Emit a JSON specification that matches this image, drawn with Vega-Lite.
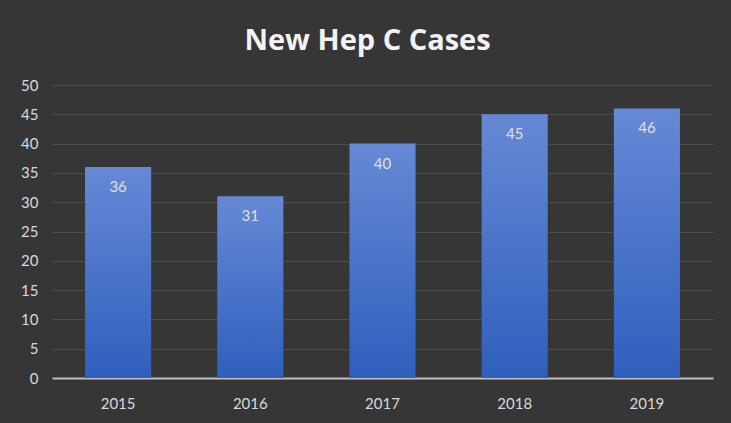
{
  "$schema": "https://vega.github.io/schema/vega-lite/v6.json",
  "width": 661,
  "height": 293,
  "autosize": {"type": "none"},
  "padding": {"left": 52, "top": 85, "right": 18, "bottom": 45},
  "background": "#363636",
  "config": {"view": {"stroke": null}},
  "title": {
    "text": "New Hep C Cases",
    "font": "Open Sans",
    "fontSize": 29,
    "fontWeight": "bold",
    "color": "#f2f2f2",
    "anchor": "middle",
    "dx": -15,
    "offset": 22
  },
  "data": {
    "values": [
      {"year": "2015", "cases": 36},
      {"year": "2016", "cases": 31},
      {"year": "2017", "cases": 40},
      {"year": "2018", "cases": 45},
      {"year": "2019", "cases": 46}
    ]
  },
  "encoding": {
    "x": {
      "field": "year",
      "type": "nominal",
      "scale": {"paddingInner": 0.5, "paddingOuter": 0.25},
      "axis": {
        "title": null,
        "labelAngle": 0,
        "labelFont": "Lato",
        "labelFontSize": 15,
        "labelColor": "#d9d9d9",
        "labelPadding": 18,
        "ticks": false,
        "domainColor": "#bfbfbf",
        "domainWidth": 2
      }
    },
    "y": {
      "field": "cases",
      "type": "quantitative",
      "scale": {"domain": [0, 50]},
      "axis": {
        "title": null,
        "values": [0, 5, 10, 15, 20, 25, 30, 35, 40, 45, 50],
        "labelFont": "Lato",
        "labelFontSize": 15,
        "labelColor": "#d9d9d9",
        "labelPadding": 14,
        "ticks": false,
        "domain": false,
        "gridColor": "#4d4d4d",
        "gridWidth": 1
      }
    }
  },
  "layer": [
    {
      "mark": {
        "type": "bar",
        "fill": {
          "gradient": "linear",
          "x1": 0, "y1": 0, "x2": 0, "y2": 1,
          "stops": [
            {"offset": 0, "color": "#6689d5"},
            {"offset": 1, "color": "#2f5fbd"}
          ]
        }
      }
    },
    {
      "mark": {
        "type": "text",
        "baseline": "top",
        "dy": 13,
        "font": "Lato",
        "fontSize": 15,
        "color": "#e0e0e0"
      },
      "encoding": {"text": {"field": "cases", "type": "quantitative"}}
    }
  ]
}
